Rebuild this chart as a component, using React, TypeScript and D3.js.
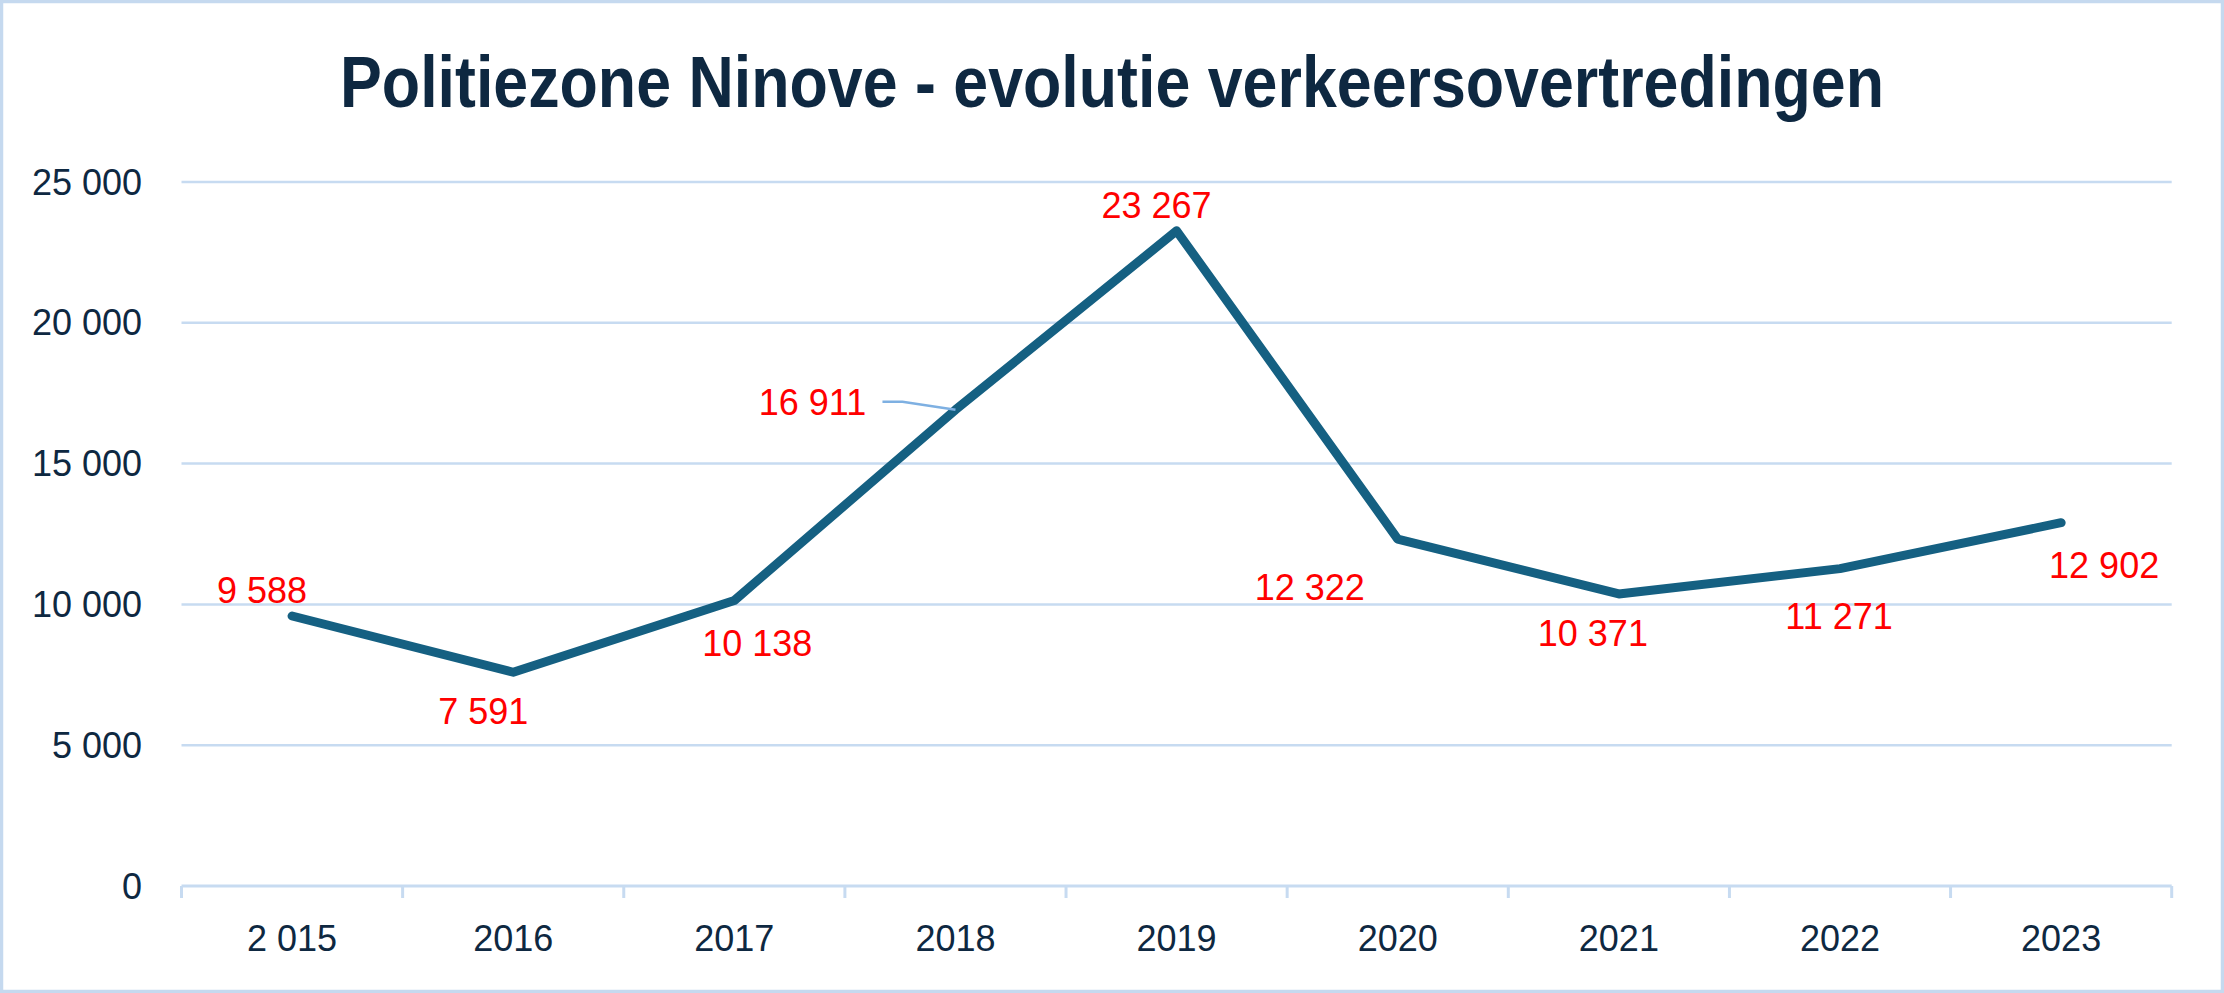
import React from "react";
import * as d3 from "d3";

const years = ["2 015", "2016", "2017", "2018", "2019", "2020", "2021", "2022", "2023"];
const values = [9588, 7591, 10138, 16911, 23267, 12322, 10371, 11271, 12902];
const yTicks = [0, 5000, 10000, 15000, 20000, 25000];
const title = "Politiezone Ninove - evolutie verkeersovertredingen";

// label offsets (center of label relative to its data point)
const labelDx = [-30, -30, 23, -143, -20, -88, -26, -1, 43];
const labelDy = [-26, 39, 43, -7, -25, 48, 39, 48, 43];

const W = 2224;
const H = 993;
const M = { left: 181.5, right: 2171.7, top: 182, bottom: 886 };

const fmt = (v: number) => d3.format(",")(v).replace(/,/g, " ");

export default function App() {
  if (typeof document !== "undefined") document.body.style.margin = "0";
  const x = d3.scaleBand<string>().domain(years).range([M.left, M.right]).padding(0);
  const y = d3.scaleLinear().domain([0, 25000]).range([M.bottom, M.top]);
  const cx = (i: number) => (x(years[i]) as number) + x.bandwidth() / 2;
  const line = d3
    .line<number>()
    .x((_, i) => cx(i))
    .y((d) => y(d));
  const font = "'Liberation Sans', Arial, sans-serif";
  const navy = "#0e2841";
  const grid = "#c7dbf1";
  const boundaries = d3.range(years.length + 1).map((i) => M.left + i * x.bandwidth());
  const i18 = 3;
  const p18 = { x: cx(i18), y: y(values[i18]) };
  const l18 = { x: p18.x + labelDx[i18], y: p18.y + labelDy[i18] };

  return (
    <svg width={W} height={H} style={{ display: "block" }} xmlns="http://www.w3.org/2000/svg">
      <rect x={1.5} y={1.5} width={W - 3} height={H - 3} fill="#fff" stroke="#c5d9ef" strokeWidth={3.5} />
      <text
        x={W / 2}
        y={107}
        textAnchor="middle"
        fontFamily="'Liberation Sans Narrow', 'Liberation Sans', Arial, sans-serif"
        fontWeight="bold"
        fontSize={72}
        fill={navy}
        textLength={1544}
        lengthAdjust="spacingAndGlyphs"
      >
        {title}
      </text>
      {yTicks.map((t) => (
        <g key={t}>
          {t > 0 && <line x1={M.left} x2={M.right} y1={y(t)} y2={y(t)} stroke={grid} strokeWidth={2.5} />}
          <text x={142} y={y(t)} dy="0.35em" textAnchor="end" fontFamily={font} fontSize={36} fill={navy}>
            {fmt(t)}
          </text>
        </g>
      ))}
      <line x1={M.left} x2={M.right} y1={y(0)} y2={y(0)} stroke={grid} strokeWidth={3} />
      {boundaries.map((bx, i) => (
        <line key={i} x1={bx} x2={bx} y1={y(0)} y2={y(0) + 12} stroke={grid} strokeWidth={3} />
      ))}
      {years.map((yr, i) => (
        <text key={yr} x={cx(i)} y={938} dy="0.35em" textAnchor="middle" fontFamily={font} fontSize={36} fill={navy}>
          {yr}
        </text>
      ))}
      <path
        d={line(values) || ""}
        fill="none"
        stroke="#156082"
        strokeWidth={9}
        strokeLinejoin="round"
        strokeLinecap="round"
      />
      <polyline
        points={`${l18.x + 70},${l18.y - 1} ${l18.x + 90},${l18.y - 1} ${p18.x},${p18.y}`}
        fill="none"
        stroke="#7eb0e2"
        strokeWidth={2.5}
      />
      {values.map((v, i) => (
        <text
          key={i}
          x={cx(i) + labelDx[i]}
          y={y(v) + labelDy[i]}
          dy="0.35em"
          textAnchor="middle"
          fontFamily={font}
          fontSize={36}
          fill="#ff0000"
        >
          {fmt(v)}
        </text>
      ))}
    </svg>
  );
}
